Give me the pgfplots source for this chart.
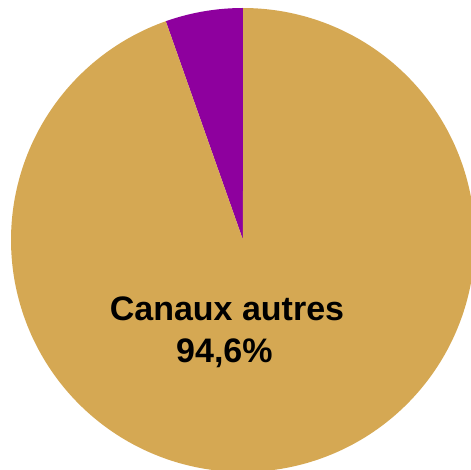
\documentclass[border=0pt]{standalone}
\usepackage{fontspec}
\setmainfont{Liberation Sans}
\usepackage{pgfplots}
\usepackage{pgfplotstable}
\pgfplotsset{compat=1.18}
\definecolor{gold}{RGB}{213,168,83}
\definecolor{violet}{RGB}{142,0,158}
\pgfplotstableread{
name value
Autre 5.4
Canaux 94.6
}\piedata
\begin{document}
\begin{tikzpicture}
\pgfplotstablegetelem{0}{value}\of\piedata \let\va\pgfplotsretval
\pgfplotstablegetelem{1}{value}\of\piedata \let\vb\pgfplotsretval
\pgfmathsetmacro{\aA}{90}
\pgfmathsetmacro{\aB}{90+3.6*\va}
\pgfmathsetmacro{\aC}{\aB+3.6*\vb}
\begin{axis}[
  name=pie,
  scale only axis, width=471pt, height=470pt,
  xmin=-1.0474, xmax=0.9828, ymin=-0.9914, ymax=1.0345,
  axis lines=none, ticks=none, clip=true,
]
\addplot[draw=none, fill=violet, domain=\aA:\aB, samples=60, variable=\t]
  ({cos(t)},{sin(t)}) -- (axis cs:0,0) -- cycle;
\addplot[draw=none, fill=gold, domain=\aB:\aC, samples=300, variable=\t]
  ({cos(t)},{sin(t)}) -- (axis cs:0,0) -- cycle;
\node[anchor=base, font=\fontsize{34}{40}\selectfont\bfseries, inner sep=0pt]
  at (axis cs:-0.069,-0.345) {Canaux autres};
\node[anchor=base, font=\fontsize{34}{40}\selectfont\bfseries, inner sep=0pt]
  at (axis cs:-0.08,-0.530) {94,6\%};
\end{axis}
\pgfresetboundingbox
\useasboundingbox (pie.south west) rectangle (pie.north east);
\end{tikzpicture}
\end{document}
